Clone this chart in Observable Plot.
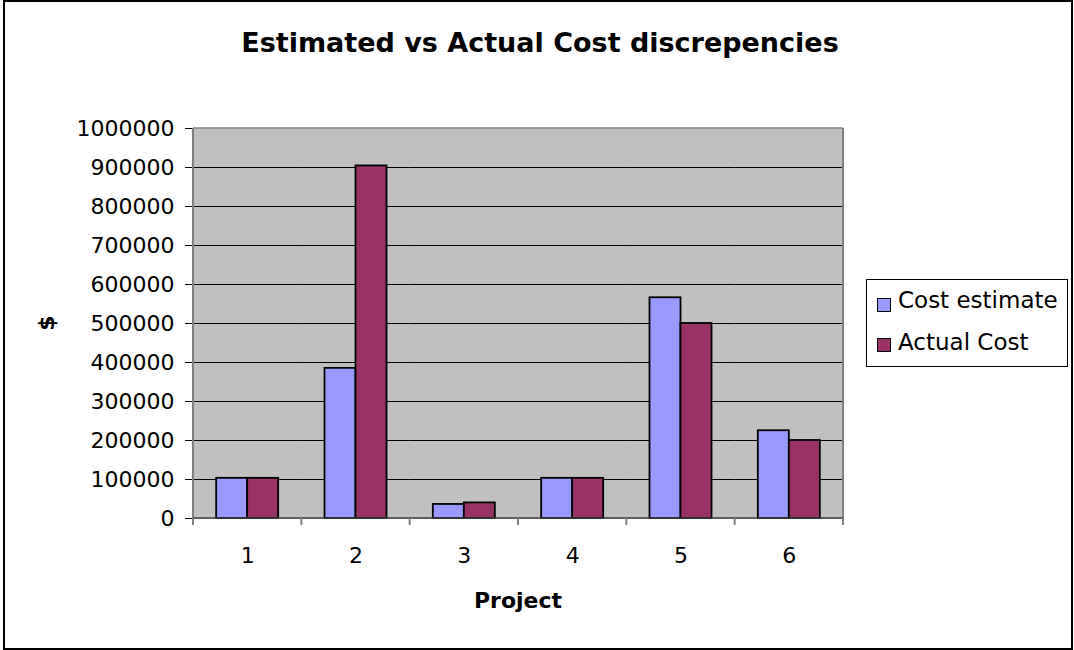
<!DOCTYPE html>
<html>
<head>
<meta charset="utf-8">
<script src="https://cdn.jsdelivr.net/npm/d3@7"></script>
<script src="https://cdn.jsdelivr.net/npm/@observablehq/plot@0.6"></script>
<style>
  html, body { margin: 0; padding: 0; background: #fff; }
  #wrap { position: relative; width: 1074px; height: 650px; font-family: "DejaVu Sans", "Liberation Sans", Arial, sans-serif; color: #000; overflow: hidden; }
  #border { position: absolute; left: 3px; top: 0; width: 1070px; height: 650px; border: 2px solid #000; box-sizing: border-box; pointer-events: none; }
  #chart { position: absolute; left: 0; top: 0; }
  .lbl { position: absolute; line-height: 1; white-space: nowrap; }
  #title { left: 0; width: 1080px; text-align: center; top: 29px; font-size: 27px; font-weight: bold; }
  #xlabel { left: 193px; width: 650px; text-align: center; top: 590px; font-size: 22px; font-weight: bold; }
  #ylabel { left: 32px; top: 312px; width: 30px; height: 22px; text-align: center; font-size: 22px; font-weight: bold; transform: rotate(-90deg); }
  #legend { position: absolute; left: 866px; top: 279px; width: 202px; height: 88px; border: 1px solid #000; background: #fff; box-sizing: border-box; }
  .item { position: absolute; left: 31px; font-size: 23px; line-height: 1; white-space: nowrap; }
  .sw { position: absolute; left: 10px; width: 14px; height: 14px; border: 1px solid #000; box-sizing: border-box; }
</style>
</head>
<body>
<div id="wrap">
  <div id="chart"></div>
  <div id="title" class="lbl"></div>
  <div id="xlabel" class="lbl"></div>
  <div id="ylabel" class="lbl"></div>
  <div id="legend"></div>
  <div id="border"></div>
</div>
<script>
// ---- data ----
const titleText = "Estimated vs Actual Cost discrepencies";
const xTitle = "Project";
const yTitle = "$";
const projects = ["1", "2", "3", "4", "5", "6"];
const seriesNames = ["Cost estimate", "Actual Cost"];
const costEstimate = [103000, 385000, 36000, 103000, 566000, 225000];
const actualCost = [103000, 904000, 40000, 103000, 500000, 200000];
const yTicks = [0, 100000, 200000, 300000, 400000, 500000, 600000, 700000, 800000, 900000, 1000000];
const seriesColors = ["#9999FF", "#993366"];

// ---- layout ----
const W = 1074, H = 650;
const mL = 193, mR = 231, mT = 128, mB = 132;

const data = projects.flatMap((p, i) => [
  {project: p, series: seriesNames[0], value: costEstimate[i]},
  {project: p, series: seriesNames[1], value: actualCost[i]}
]);

const chart = Plot.plot({
  width: W, height: H,
  marginLeft: mL, marginRight: mR, marginTop: mT, marginBottom: mB,
  style: {fontFamily: "'DejaVu Sans', 'Liberation Sans', Arial, sans-serif", fontSize: "22px", background: "transparent", color: "#000", overflow: "visible"},
  facet: {data, x: "project"},
  fx: {domain: projects, padding: 0, round: false, axis: "bottom", tickSize: 0, tickPadding: 29, label: null},
  x: {domain: seriesNames, paddingInner: 0, paddingOuter: 0.747, round: false, axis: null},
  y: {domain: [0, 1000000], ticks: yTicks, tickSize: 8, tickPadding: 11, tickFormat: d3.format("d"), label: null},
  color: {domain: seriesNames, range: seriesColors},
  marks: [
    Plot.frame({fill: "#C0C0C0", stroke: "#C0C0C0", strokeWidth: 1.2}),
    Plot.ruleY(yTicks.slice(1, -1), {stroke: "#000", strokeWidth: 1}),
    Plot.barY(data, {x: "series", y: "value", fill: "series", stroke: "#000", strokeWidth: 1.8})
  ]
});
document.getElementById("chart").appendChild(chart);

// plot-area outline and category boundary ticks, placed from the library's scales
const svg = d3.select(chart);
svg.selectAll('[aria-label="y-axis tick"]').attr("stroke", "#404040");
const ys = chart.scale("y");
const fxs = chart.scale("fx");
const yTop = ys.apply(yTicks[yTicks.length - 1]);
const yBot = ys.apply(0);
const xLeft = mL, xRight = W - mR;
const g = svg.append("g");
g.append("line").attr("x1", xLeft).attr("x2", xRight).attr("y1", yTop).attr("y2", yTop).attr("stroke", "#808080").attr("stroke-width", 1.5);
g.append("line").attr("x1", xRight).attr("x2", xRight).attr("y1", yTop).attr("y2", yBot).attr("stroke", "#808080").attr("stroke-width", 2);
g.append("line").attr("x1", xLeft).attr("x2", xLeft).attr("y1", yTop).attr("y2", yBot).attr("stroke", "#808080").attr("stroke-width", 2);
g.append("line").attr("x1", xLeft).attr("x2", xRight).attr("y1", yBot).attr("y2", yBot).attr("stroke", "#404040").attr("stroke-width", 1.5);
let edges;
try {
  edges = projects.map(p => fxs.apply(p));
  edges.push(fxs.apply(projects[projects.length - 1]) + fxs.bandwidth);
  if (edges.some(v => !isFinite(v))) throw new Error("bad");
} catch (e) {
  const step = (xRight - xLeft) / projects.length;
  edges = d3.range(projects.length + 1).map(i => xLeft + i * step);
}
edges.forEach(x => {
  g.append("line").attr("x1", x).attr("x2", x).attr("y1", yBot).attr("y2", yBot + 7).attr("stroke", "#808080").attr("stroke-width", 2);
});

// texts
document.getElementById("title").textContent = titleText;
document.getElementById("xlabel").textContent = xTitle;
document.getElementById("ylabel").textContent = yTitle;
const legend = document.getElementById("legend");
seriesNames.forEach((s, i) => {
  const it = document.createElement("div");
  it.className = "item";
  it.style.top = (9 + i * 42) + "px";
  it.textContent = s;
  legend.appendChild(it);
  const sw = document.createElement("div");
  sw.className = "sw";
  sw.style.top = (18 + i * 40) + "px";
  sw.style.background = seriesColors[i];
  legend.appendChild(sw);
});
</script>
</body>
</html>
